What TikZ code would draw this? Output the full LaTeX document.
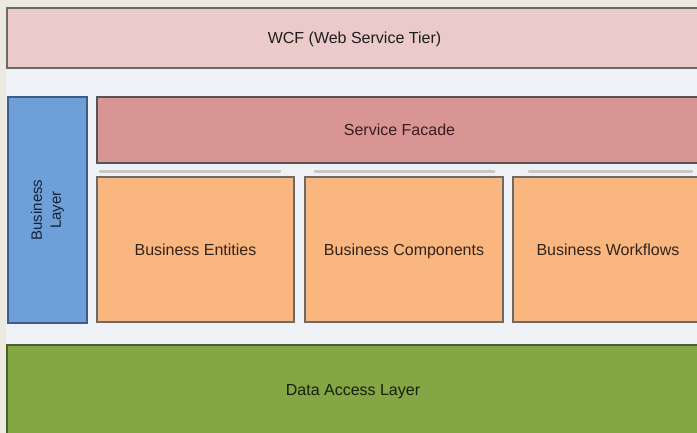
\documentclass[tikz,border=0pt]{standalone}
\usepackage{fontspec}
\setmainfont{Liberation Sans}
\definecolor{beige}{HTML}{ECE9E0}
\definecolor{canvas}{HTML}{EEF1F5}
\definecolor{wcffill}{HTML}{EBCACA}
\definecolor{facadefill}{HTML}{D99594}
\definecolor{bluefill}{HTML}{6F9FD8}
\definecolor{bluedraw}{HTML}{3F5C86}
\definecolor{orangefill}{HTML}{F9B67E}
\definecolor{greenfill}{HTML}{84A644}
\definecolor{greendraw}{HTML}{4B5E2E}
\definecolor{graydraw}{HTML}{6A6A6A}
\definecolor{barcol}{HTML}{C8C8C4}
\definecolor{txtdark}{HTML}{1E1E1E}
\definecolor{txtbrown}{HTML}{33231A}
\definecolor{txtred}{HTML}{3A1E1E}
\definecolor{txtgreen}{HTML}{17200C}
\definecolor{txtblue}{HTML}{142238}
\tikzset{
  layerbox/.style={rectangle, anchor=north west, inner sep=0pt, outer sep=0pt,
    line width=1.4pt, font=\fontsize{16}{19}\selectfont, text height=11.5pt, text depth=0pt},
  wcfbox/.style={layerbox, fill=wcffill, draw=graydraw, text=txtdark},
  facadebox/.style={layerbox, fill=facadefill, draw=graydraw!80!black, text=txtred},
  compbox/.style={layerbox, fill=orangefill, draw=graydraw, text=txtbrown},
  bluebox/.style={layerbox, fill=bluefill, draw=bluedraw, text=txtblue},
  greenbox/.style={layerbox, fill=greenfill, draw=greendraw, text=txtgreen},
  labeltext/.style={inner sep=0pt, font=\fontsize{16}{19}\selectfont, text height=11.5pt, text depth=0pt},
  sepbar/.style={line width=3pt, line cap=round, draw=barcol}
}
\begin{document}
\begin{tikzpicture}[x=1pt, y=-1pt]
\useasboundingbox (0,0) rectangle (697,433);
\clip (0,0) rectangle (697,433);
\fill[beige] (0,0) rectangle (697,433);
\fill[canvas] (6,8) rectangle (697,433);
% WCF tier
\node[wcfbox, minimum width=695pt, minimum height=60pt] (wcf) at (7,8) {WCF (Web Service Tier)};
% business layer side box
\node[bluebox, minimum width=79pt, minimum height=226pt] (bl) at (8,97) {};
\node[text=txtblue, rotate=90, align=center, font=\fontsize{15}{19}\selectfont] (bltext) at (bl.center) {Business\\Layer};
% service facade
\node[facadebox, minimum width=605pt, minimum height=66pt] (facade) at (97,97) {Service Facade};
% separator bars
\coordinate (b1a) at (100,172); \coordinate (b1b) at (280,172);
\coordinate (b2a) at (315,172); \coordinate (b2b) at (494,172);
\coordinate (b3a) at (529,172); \coordinate (b3b) at (692,172);
\draw[sepbar] (b1a) -- (b1b);
\draw[sepbar] (b2a) -- (b2b);
\draw[sepbar] (b3a) -- (b3b);
% business components
\node[compbox, minimum width=197pt, minimum height=145pt] (ent) at (97,177) {Business Entities};
\node[compbox, minimum width=198pt, minimum height=145pt] (comp) at (305,177) {Business Components};
\node[compbox, minimum width=190pt, minimum height=145pt] (wf) at (513,177) {Business Workflows};
% data access layer
\node[greenbox, minimum width=700pt, minimum height=100pt] (dal) at (7,345) {};
\node[labeltext, text=txtgreen] (daltext) at (353,390) {Data Access Layer};
\end{tikzpicture}
\end{document}
